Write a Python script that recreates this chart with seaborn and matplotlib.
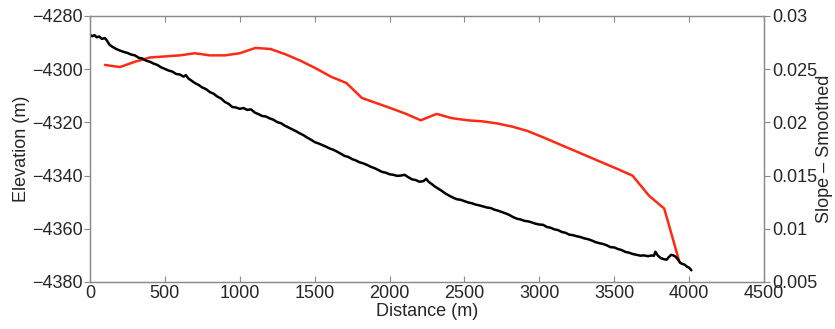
# Elevation profile with smoothed slope on a second axis

import numpy as np
import pandas as pd
import matplotlib
matplotlib.use("Agg")
import matplotlib.pyplot as plt
import seaborn as sns

# elevation profile (m)
dist = [0, 15, 30, 45, 60, 80, 100, 115, 130, 150,
        175, 200, 225, 250, 275, 300, 325, 350, 375, 400,
        425, 450, 475, 500, 525, 550, 575, 600, 625, 640,
        655, 675, 700, 725, 750, 775, 800, 825, 850, 875,
        900, 925, 950, 975, 1000, 1025, 1050, 1075, 1100, 1125,
        1150, 1175, 1200, 1225, 1250, 1275, 1300, 1325, 1350, 1375,
        1400, 1425, 1450, 1475, 1500, 1525, 1550, 1575, 1600, 1625,
        1650, 1675, 1700, 1725, 1750, 1775, 1800, 1825, 1850, 1875,
        1900, 1925, 1950, 1975, 2000, 2025, 2050, 2075, 2100, 2125,
        2150, 2175, 2200, 2225, 2245, 2260, 2280, 2300, 2325, 2350,
        2375, 2400, 2425, 2450, 2475, 2500, 2525, 2550, 2575, 2600,
        2625, 2650, 2675, 2700, 2725, 2750, 2775, 2800, 2825, 2850,
        2875, 2900, 2925, 2950, 2975, 3000, 3025, 3050, 3075, 3100,
        3125, 3150, 3175, 3200, 3225, 3250, 3275, 3300, 3325, 3350,
        3375, 3400, 3425, 3450, 3475, 3500, 3525, 3550, 3575, 3600,
        3625, 3650, 3675, 3700, 3725, 3750, 3765, 3775, 3790, 3810,
        3830, 3850, 3865, 3880, 3895, 3910, 3925, 3940, 3955, 3970,
        3985, 4000, 4015]
elev = [-4287.0, -4287.6, -4287.2, -4288.0, -4287.7, -4288.6, -4288.3, -4289.4, -4290.8, -4291.6,
        -4292.4, -4293.0, -4293.5, -4293.9, -4294.5, -4294.8, -4295.7, -4296.0, -4296.8, -4297.2,
        -4297.9, -4298.4, -4299.3, -4299.9, -4300.5, -4300.9, -4301.8, -4302.0, -4302.8, -4302.2,
        -4303.4, -4304.2, -4305.2, -4305.9, -4306.9, -4307.5, -4308.6, -4309.2, -4310.3, -4311.0,
        -4312.3, -4313.0, -4314.2, -4314.4, -4314.9, -4314.6, -4315.3, -4315.1, -4316.3, -4316.9,
        -4317.6, -4317.8, -4318.5, -4319.0, -4319.9, -4320.3, -4321.2, -4321.9, -4322.6, -4323.3,
        -4324.1, -4324.8, -4325.7, -4326.5, -4327.4, -4327.9, -4328.5, -4329.1, -4329.8, -4330.3,
        -4331.0, -4331.8, -4332.6, -4333.0, -4333.8, -4334.3, -4335.0, -4335.4, -4336.0, -4336.7,
        -4337.2, -4337.9, -4338.6, -4338.9, -4339.5, -4339.7, -4340.1, -4340.0, -4339.7, -4340.6,
        -4341.4, -4341.7, -4342.3, -4342.1, -4341.2, -4342.3, -4343.1, -4344.0, -4344.9, -4345.8,
        -4346.8, -4347.6, -4348.3, -4348.9, -4349.1, -4349.6, -4350.1, -4350.4, -4350.9, -4351.2,
        -4351.6, -4352.0, -4352.2, -4352.8, -4353.2, -4353.7, -4354.2, -4354.8, -4355.6, -4356.2,
        -4356.5, -4357.0, -4357.2, -4357.6, -4358.1, -4358.4, -4358.5, -4359.3, -4359.6, -4360.2,
        -4360.5, -4361.2, -4361.5, -4362.2, -4362.4, -4362.8, -4363.1, -4363.6, -4363.9, -4364.4,
        -4365.0, -4365.4, -4365.7, -4366.2, -4366.9, -4367.0, -4367.6, -4368.0, -4368.7, -4369.0,
        -4369.5, -4369.8, -4370.1, -4370.0, -4370.3, -4370.0, -4370.2, -4368.6, -4370.0, -4371.0,
        -4371.4, -4371.6, -4370.6, -4369.8, -4370.0, -4370.5, -4371.5, -4372.8, -4373.2, -4373.5,
        -4374.2, -4374.6, -4375.6]

# smoothed slope
slope_dist = [100, 200, 300, 400, 500, 600, 700, 800, 900, 1000,
              1105, 1205, 1305, 1405, 1505, 1608, 1712, 1815, 1915, 2015,
              2110, 2208, 2315, 2415, 2520, 2620, 2720, 2820, 2920, 3025,
              3125, 3225, 3325, 3425, 3525, 3622, 3733, 3834, 3935]
slope = [0.0254, 0.0252, 0.0257, 0.0261, 0.0262, 0.0263, 0.0265, 0.0263, 0.0263, 0.0265,
         0.0270, 0.0269, 0.0264, 0.0258, 0.0251, 0.0243, 0.0237, 0.0223, 0.0218, 0.0213,
         0.0208, 0.0202, 0.0208, 0.0204, 0.0202, 0.0201, 0.0199, 0.0196, 0.0192, 0.0186,
         0.0180, 0.0174, 0.0168, 0.0162, 0.0156, 0.0150, 0.0131, 0.0119, 0.0069]

sns.set_style("ticks")
plt.rcParams["font.family"] = ["Liberation Sans", "DejaVu Sans"]
plt.rcParams["axes.unicode_minus"] = True

prof = pd.DataFrame(dict(dist=dist, elev=elev))
sl = pd.DataFrame(dict(dist=slope_dist, slope=slope))

fig = plt.figure(figsize=(8.35, 3.29), dpi=100)
ax = fig.add_axes([90 / 835, 1 - 282 / 329, 674 / 835, 266 / 329])
ax2 = ax.twinx()

sns.lineplot(data=sl, x="dist", y="slope", color="#ff2a14", lw=1.8, ax=ax2)
sns.lineplot(data=prof, x="dist", y="elev", color="black", lw=1.8, ax=ax)
ax.set_zorder(ax2.get_zorder() + 1)
ax.patch.set_visible(False)

ax.set_xlim(0, 4500)
ax.set_ylim(-4380, -4280)
ax2.set_ylim(0.005, 0.03)
ax.set_xticks(np.arange(0, 4501, 500))
ax.set_yticks(np.arange(-4380, -4279, 20))
ax2.set_yticks([0.005, 0.01, 0.015, 0.02, 0.025, 0.03])
ax2.set_yticklabels(["0.005", "0.01", "0.015", "0.02", "0.025", "0.03"])

fs = 13
ax.set_xlabel("Distance (m)", fontsize=fs, labelpad=1)
ax.set_ylabel("Elevation (m)", fontsize=fs, labelpad=2)
ax2.set_ylabel("Slope \u2013 Smoothed", fontsize=fs)
ax2.yaxis.set_label_coords(1.077, 0.5)

grey = "#8a8a8a"
for a in (ax, ax2):
    for s in a.spines.values():
        s.set_visible(True)
        s.set_color(grey)
        s.set_linewidth(0.9)
ax.tick_params(axis="x", direction="in", top=True, length=4, color=grey, labelsize=fs, pad=2)
ax.tick_params(axis="y", direction="out", length=4, color=grey, labelsize=fs, pad=1)
ax2.tick_params(axis="y", direction="out", length=4, color=grey, labelsize=fs, pad=2)

fig.savefig("out.png", dpi=100)
